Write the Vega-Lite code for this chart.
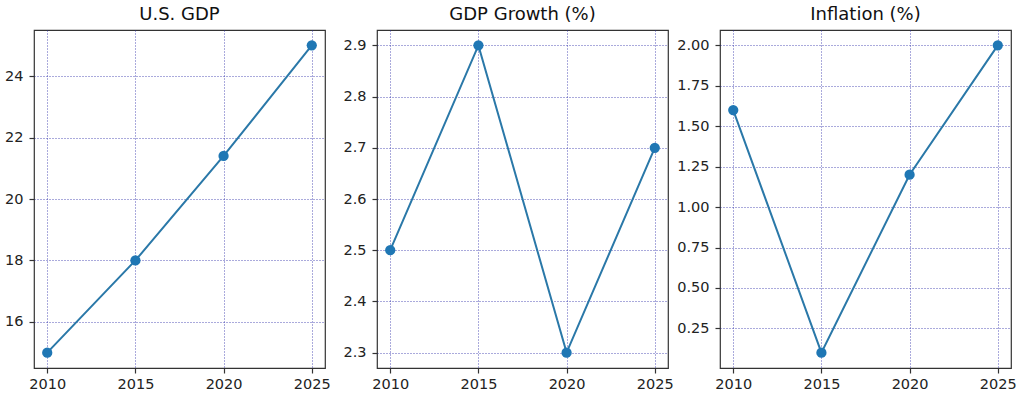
{
  "$schema": "https://vega.github.io/schema/vega-lite/v6.json",
  "padding": {"left": 3, "top": 5, "right": 0, "bottom": 0},
  "background": "white",
  "data": {
    "values": [
      {"year": 2010, "gdp": 15.0, "growth": 2.5, "inflation": 1.6},
      {"year": 2015, "gdp": 18.0, "growth": 2.9, "inflation": 0.1},
      {"year": 2020, "gdp": 21.4, "growth": 2.3, "inflation": 1.2},
      {"year": 2025, "gdp": 25.0, "growth": 2.7, "inflation": 2.0}
    ]
  },
  "bounds": "flush",
  "spacing": 52,
  "config": {
    "font": "DejaVu Sans",
    "view": {"stroke": "#333333", "strokeWidth": 1.2},
    "title": {"fontSize": 18, "fontWeight": "normal", "color": "#111111", "offset": 6, "font": "DejaVu Sans"},
    "axis": {
      "domain": false,
      "ticks": true,
      "tickColor": "#333333",
      "tickSize": 5,
      "tickWidth": 1.2,
      "labelFontSize": 14.5,
      "labelColor": "#222222",
      "labelFont": "DejaVu Sans",
      "grid": true,
      "gridColor": "#2a2aa8",
      "gridOpacity": 0.8,
      "gridDash": [1, 2],
      "gridWidth": 1,
      "title": null
    },
    "axisX": {"labelPadding": 4},
    "axisY": {"labelPadding": 6},
    "line": {"color": "#2a78a8", "strokeWidth": 2},
    "point": {"color": "#1f77b4", "filled": true, "opacity": 1, "size": 105}
  },
  "hconcat": [
    {
      "width": 291,
      "height": 338,
      "title": "U.S. GDP",
      "encoding": {
        "x": {"field": "year", "type": "quantitative", "scale": {"domain": [2009.25, 2025.75], "nice": false, "zero": false}, "axis": {"values": [2010, 2015, 2020, 2025], "format": "d"}},
        "y": {"field": "gdp", "type": "quantitative", "scale": {"domain": [14.5, 25.5], "nice": false, "zero": false}, "axis": {"values": [16, 18, 20, 22, 24], "format": "d"}}
      },
      "layer": [
        {"mark": {"type": "line"}},
        {"mark": {"type": "point"}}
      ]
    },
    {
      "width": 291,
      "height": 338,
      "title": "GDP Growth (%)",
      "encoding": {
        "x": {"field": "year", "type": "quantitative", "scale": {"domain": [2009.25, 2025.75], "nice": false, "zero": false}, "axis": {"values": [2010, 2015, 2020, 2025], "format": "d"}},
        "y": {"field": "growth", "type": "quantitative", "scale": {"domain": [2.27, 2.93], "nice": false, "zero": false}, "axis": {"values": [2.3, 2.4, 2.5, 2.6, 2.7, 2.8, 2.9], "format": ".1f"}}
      },
      "layer": [
        {"mark": {"type": "line"}},
        {"mark": {"type": "point"}}
      ]
    },
    {
      "width": 291,
      "height": 338,
      "title": "Inflation (%)",
      "encoding": {
        "x": {"field": "year", "type": "quantitative", "scale": {"domain": [2009.25, 2025.75], "nice": false, "zero": false}, "axis": {"values": [2010, 2015, 2020, 2025], "format": "d"}},
        "y": {"field": "inflation", "type": "quantitative", "scale": {"domain": [0.005, 2.095], "nice": false, "zero": false}, "axis": {"values": [0.25, 0.5, 0.75, 1.0, 1.25, 1.5, 1.75, 2.0], "format": ".2f"}}
      },
      "layer": [
        {"mark": {"type": "line"}},
        {"mark": {"type": "point"}}
      ]
    }
  ]
}
